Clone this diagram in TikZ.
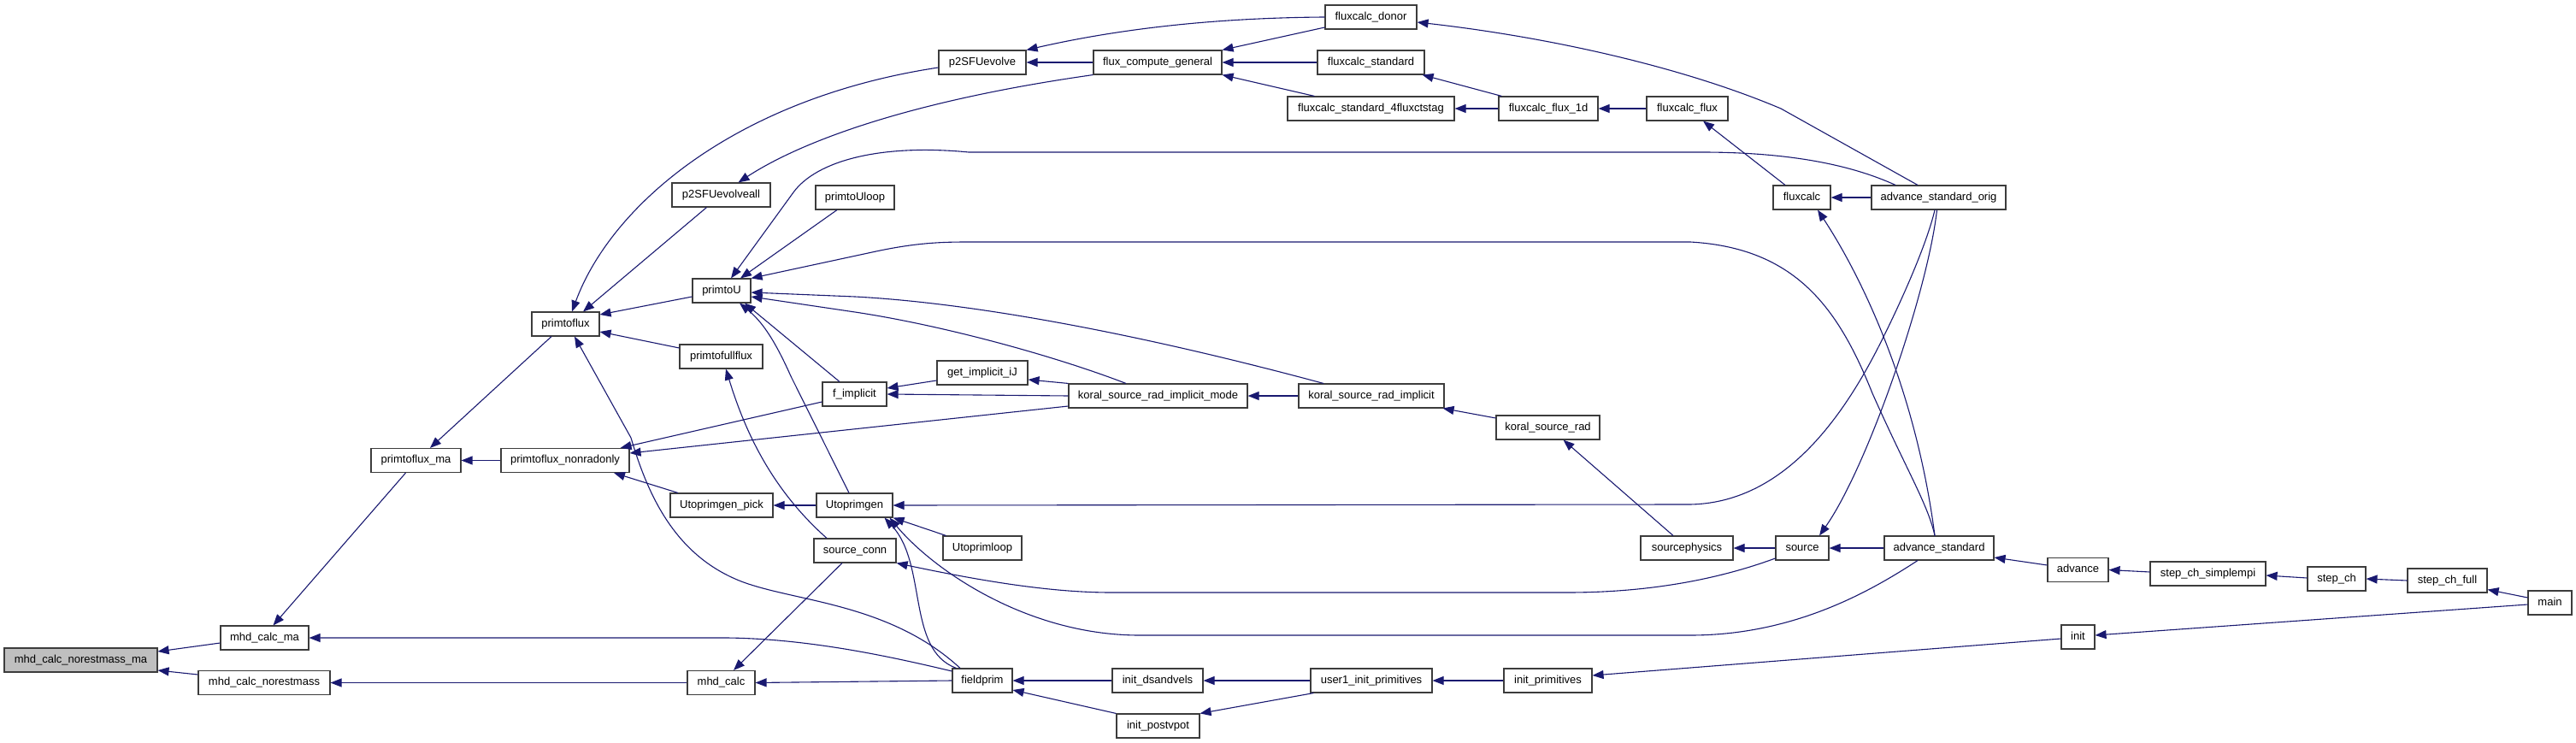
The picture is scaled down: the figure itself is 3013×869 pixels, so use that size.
\documentclass[tikz,border=0pt]{standalone}
\usepackage{fontspec}
\setmainfont{Liberation Sans}
\usetikzlibrary{arrows.meta}
\definecolor{edgeblue}{RGB}{25,25,112}
\definecolor{nodeline}{RGB}{60,60,60}
\definecolor{focusfill}{RGB}{191,191,191}
\tikzset{
 fn/.style={draw=nodeline, line width=1.1pt, rectangle, inner sep=0pt, minimum height=28pt,
   text height=9.3pt, text depth=2.7pt, font=\fontsize{13}{15}\selectfont, fill=white},
 e/.style={draw=edgeblue, line width=1.1pt, {Triangle[length=13pt,width=10pt]}-},
}
\begin{document}
\begin{tikzpicture}[x=1pt,y=-1pt]
\useasboundingbox (0,0) rectangle (3013,869);
% nodes
\node[fn, fill=focusfill, minimum width=179pt] (nm) at (94.5,772) {mhd\_calc\_norestmass\_ma};
\node[fn, minimum width=103pt] (mcm) at (309.5,746) {mhd\_calc\_ma};
\node[fn, minimum width=154pt] (mcn) at (309,798.5) {mhd\_calc\_norestmass};
\node[fn, minimum width=105pt] (pfm) at (486.5,538.5) {primtoflux\_ma};
\node[fn, minimum width=150pt] (pfn) at (661,538.5) {primtoflux\_nonradonly};
\node[fn, minimum width=120pt] (ugp) at (844,591) {Utoprimgen\_pick};
\node[fn, minimum width=79pt] (mc) at (843.5,798.5) {mhd\_calc};
\node[fn, minimum width=75pt] (fi) at (999.5,461) {f\_implicit};
\node[fn, minimum width=89pt] (ug) at (999.5,591) {Utoprimgen};
\node[fn, minimum width=96pt] (sc) at (1000,644) {source\_conn};
\node[fn, minimum width=115pt] (p2a) at (843.5,228) {p2SFUevolveall};
\node[fn, minimum width=92pt] (pul) at (1000,231) {primtoUloop};
\node[fn, minimum width=68pt] (pu) at (844,340) {primtoU};
\node[fn, minimum width=79pt] (pf) at (661.5,379) {primtoflux};
\node[fn, minimum width=97pt] (pff) at (843.5,417) {primtofullflux};
\node[fn, minimum width=102pt] (p2) at (1149,73) {p2SFUevolve};
\node[fn, minimum width=150pt] (fcg) at (1354,73) {flux\_compute\_general};
\node[fn, minimum width=106pt] (gij) at (1149,436) {get\_implicit\_iJ};
\node[fn, minimum width=209pt] (ksrim) at (1354.5,463) {koral\_source\_rad\_implicit\_mode};
\node[fn, minimum width=92pt] (upl) at (1149,641) {Utoprimloop};
\node[fn, minimum width=70pt] (fp) at (1149,796) {fieldprim};
\node[fn, minimum width=106pt] (ids) at (1354,796) {init\_dsandvels};
\node[fn, minimum width=97pt] (ipv) at (1354.5,849) {init\_postvpot};
\node[fn, minimum width=107pt] (fd) at (1603.5,20) {fluxcalc\_donor};
\node[fn, minimum width=125pt] (fs) at (1603.5,73) {fluxcalc\_standard};
\node[fn, minimum width=195pt] (fs4) at (1603.5,127) {fluxcalc\_standard\_4fluxctstag};
\node[fn, minimum width=116pt] (ff1) at (1811,127) {fluxcalc\_flux\_1d};
\node[fn, minimum width=95pt] (ffx) at (1973.5,127) {fluxcalc\_flux};
\node[fn, minimum width=170pt] (ksri) at (1604,463) {koral\_source\_rad\_implicit};
\node[fn, minimum width=121pt] (ksr) at (1810.5,500) {koral\_source\_rad};
\node[fn, minimum width=108pt] (sp) at (1973,641) {sourcephysics};
\node[fn, minimum width=142pt] (u1) at (1604,796) {user1\_init\_primitives};
\node[fn, minimum width=103pt] (ip) at (1810.5,796) {init\_primitives};
\node[fn, minimum width=67pt] (fc) at (2107.5,231) {fluxcalc};
\node[fn, minimum width=157pt] (aso) at (2267.5,231) {advance\_standard\_orig};
\node[fn, minimum width=62pt] (src) at (2108,641) {source};
\node[fn, minimum width=128pt] (as) at (2268,641) {advance\_standard};
\node[fn, minimum width=71pt] (adv) at (2430.5,666.5) {advance};
\node[fn, minimum width=39pt] (ini) at (2430.5,745) {init};
\node[fn, minimum width=135pt] (scs) at (2582.5,671) {step\_ch\_simplempi};
\node[fn, minimum width=68pt] (sch) at (2733,677) {step\_ch};
\node[fn, minimum width=93pt] (scf) at (2862.5,679) {step\_ch\_full};
\node[fn, minimum width=51pt] (mn) at (2982.5,705) {main};
% edges (arrow at callee)
\draw[e] ([yshift=10pt]nm.east) -- ([yshift=-6pt]mcm.west);
\draw[e] ([yshift=-12pt]nm.east) -- ([yshift=9.5pt]mcn.west);
\draw[e] ([xshift=10pt]mcm.north) -- ([xshift=-12pt]pfm.south);
\draw[e] (mcm.east) -- (850,746) .. controls (950,747) and (1050,770) .. ([yshift=11pt]fp.west);
\draw[e] (mcn.east) -- (mc.west);
\draw[e] ([xshift=14.5pt]mc.north) -- ([xshift=-15pt]sc.south);
\draw[e] ([xshift=16.5pt]pfm.north) -- ([xshift=-16.5pt]pf.south);
\draw[e] (pfm.east) -- (pfn.west);
\draw[e] ([xshift=7.5pt]pf.north) .. controls (715,240) and (860,115) .. ([yshift=-6pt]p2.west);
\draw[e] ([xshift=20.5pt]pf.north) -- ([xshift=-17pt]p2a.south);
\draw[e] ([yshift=11pt]pf.east) -- ([yshift=-7pt]pu.west);
\draw[e] ([yshift=-9pt]pf.east) -- ([yshift=10pt]pff.west);
\draw[e] ([xshift=10.5pt]pf.south) -- (738,512) .. controls (758,580) and (790,650) .. (867,680) .. controls (930,704) and (1040,705) .. ([xshift=-26pt]fp.north);
\draw[e] ([xshift=-11pt]pfn.north east) -- ([yshift=-9pt]fi.west);
\draw[e] ([yshift=8.5pt]pfn.east) -- ([yshift=-12pt]ksrim.west);
\draw[e] ([xshift=57pt]pfn.south) -- ([xshift=-51pt]ugp.north);
\draw[e] (ugp.east) -- (ug.west);
\draw[e] ([xshift=11pt]pu.north) -- (928,225) .. controls (955,188) and (1030,168) .. (1133,178) -- (1990,178) .. controls (2100,178) and (2170,195) .. ([xshift=-50.5pt]aso.north);
\draw[e] ([xshift=22pt]pu.north) -- ([xshift=-21pt]pul.south);
\draw[e] (pu.north east) -- (1020,295) .. controls (1070,284) and (1100,283) .. (1133,283) -- (1977,283) .. controls (2100,290) and (2150,360) .. (2190,460) .. controls (2230,550) and (2255,590) .. ([xshift=-5pt]as.north);
\draw[e] ([yshift=-2pt]pu.east) -- (1000,347) .. controls (1150,355) and (1350,395) .. ([xshift=-56pt]ksri.north);
\draw[e] ([yshift=-7pt]pu.east) -- (1000,365) .. controls (1100,380) and (1230,415) .. ([xshift=-37.5pt]ksrim.north);
\draw[e] ([xshift=21pt]pu.south) .. controls (890,375) and (905,395) .. (925,440) -- ([xshift=-6.5pt]ug.north);
\draw[e] ([xshift=27pt]pu.south) -- ([xshift=-17.5pt]fi.north);
\draw[e] ([xshift=20pt]p2a.north) .. controls (930,170) and (1050,120) .. (fcg.south west);
\draw[e] (p2.east) -- (fcg.west);
\draw[e] (p2.north east) .. controls (1290,38) and (1400,21) .. (fd.west);
\draw[e] (fcg.north east) -- ([yshift=-12pt]fd.west);
\draw[e] (fcg.east) -- (fs.west);
\draw[e] (fcg.south east) -- ([xshift=32pt]fs4.north west);
\draw[e] ([xshift=-3pt]fs.south east) -- ([xshift=4pt]ff1.north west);
\draw[e] (fs4.east) -- (ff1.west);
\draw[e] (ff1.east) -- (ffx.west);
\draw[e] ([xshift=18.5pt]ffx.south) -- ([xshift=-19.5pt]fc.north);
\draw[e] ([yshift=-6pt]fd.east) .. controls (1800,42) and (1960,75) .. (2083,127) -- ([xshift=-24.5pt]aso.north);
\draw[e] (fc.east) -- (aso.west);
\draw[e] ([yshift=-11pt]as.east) -- ([yshift=5.5pt]adv.west);
\draw[e] (adv.east) -- ([yshift=2pt]scs.west);
\draw[e] ([yshift=-2pt]scs.east) -- ([yshift=1pt]sch.west);
\draw[e] (sch.east) -- (scf.west);
\draw[e] ([yshift=4pt]scf.south east) -- ([yshift=6pt]mn.west);
\draw[e] ([yshift=2pt]ini.east) -- ([yshift=-2pt]mn.west);
\draw[e] ([yshift=6pt]ip.east) -- ([yshift=-2pt]ini.west);
\draw[e] (u1.east) -- (ip.west);
\draw[e] (ids.east) -- (u1.west);
\draw[e] (ipv.north east) -- ([xshift=4pt]u1.south west);
\draw[e] (fp.east) -- (ids.west);
\draw[e] ([yshift=-11pt]fp.east) -- (ipv.north west);
\draw[e] (mc.east) -- (fp.west);
\draw[e] (sp.east) -- (src.west);
\draw[e] (src.east) -- (as.west);
\draw[e] (sc.south east) .. controls (1150,680) and (1230,693) .. (1300,693) -- (1833,693) .. controls (1950,693) and (2030,670) .. ([yshift=-12pt]src.west);
\draw[e] ([xshift=18pt]ksr.south) -- ([xshift=-16pt]sp.north);
\draw[e] ([xshift=-2pt]ksri.south east) -- ([yshift=11pt]ksr.west);
\draw[e] (ksrim.east) -- (ksri.west);
\draw[e] ([yshift=-8pt]gij.east) -- (ksrim.north west);
\draw[e] (fi.east) -- (ksrim.west);
\draw[e] ([yshift=7pt]fi.east) -- ([yshift=-9pt]gij.west);
\draw[e] ([xshift=5.5pt]pff.south) .. controls (870,500) and (900,570) .. ([xshift=-33pt]sc.north);
\draw[e] (ug.south east) -- ([xshift=4pt]upl.north west);
\draw[e] (ug.east) -- (1977,590) .. controls (2080,588) and (2150,500) .. (2200,400) .. controls (2230,340) and (2255,280) .. ([xshift=-4.5pt]aso.south);
\draw[e] ([xshift=20pt]src.north) .. controls (2185,545) and (2255,340) .. ([xshift=-2pt]aso.south);
\draw[e] ([xshift=18.5pt]fc.south) .. controls (2175,320) and (2240,450) .. ([xshift=-5pt]as.north);
\draw[e] ([xshift=-4pt]ug.south east) .. controls (1090,665) and (1200,743) .. (1333,743) -- (1977,743) .. controls (2100,743) and (2190,690) .. ([xshift=-25pt]as.south);
\draw[e] ([xshift=-10pt]ug.south east) .. controls (1085,660) and (1060,760) .. ([xshift=5pt]fp.north west);
\end{tikzpicture}
\end{document}
